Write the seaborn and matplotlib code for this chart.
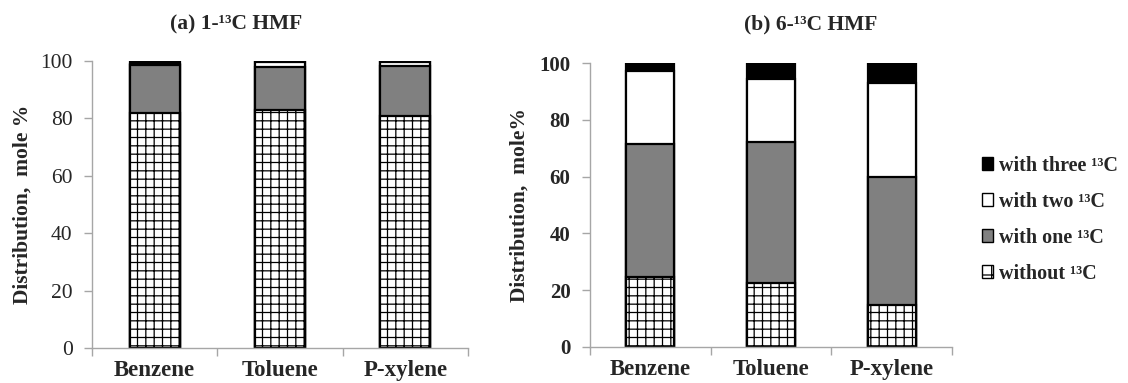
import numpy as np
import pandas as pd
import matplotlib
matplotlib.use("Agg")
import matplotlib.pyplot as plt
import seaborn as sns
from matplotlib.patches import Patch

sns.set_style("white")
plt.rcParams['font.family'] = ['Liberation Serif', 'DejaVu Serif']
plt.rcParams['hatch.linewidth'] = 0.9

# Data (mole %)
solvents = ["Benzene", "Toluene", "P-xylene"]

# (a) 1-13C HMF
a_without = [81.8, 83.0, 80.8]
a_one = [16.7, 14.8, 17.5]
a_two = [0.3, 1.7, 1.2]
a_three = [1.2, 0.5, 0.5]

# (b) 6-13C HMF
b_without = [24.8, 22.6, 14.8]
b_one = [46.6, 49.7, 45.2]
b_two = [25.8, 22.2, 32.9]
b_three = [2.8, 5.5, 7.1]

layer_names = ["without", "one", "two", "three"]
layer_colors = {"without": "white", "one": "#808080", "two": "white", "three": "black"}
layer_hatch = {"without": "++", "one": None, "two": None, "three": None}

fig = plt.figure(figsize=(11.28, 3.83), dpi=100)
ax_a = fig.add_axes([0.0816, 0.0914, 0.3333, 0.7493])
ax_b = fig.add_axes([0.523, 0.094, 0.321, 0.7415])


def draw_stack(ax, layers, bold_ticks):
    df = pd.DataFrame(dict(zip(layer_names, layers)), index=solvents)
    cum = df.cumsum(axis=1)
    # draw tallest cumulative first so lower layers sit on top
    for name in reversed(layer_names):
        sns.barplot(x=solvents, y=cum[name].values, color=layer_colors[name],
                    edgecolor="black", linewidth=1.6, hatch=layer_hatch[name],
                    width=0.4, ax=ax, saturation=1)
    ax.set_ylim(0, 100)
    ax.set_xlim(-0.5, 2.5)
    ax.set_yticks([0, 20, 40, 60, 80, 100])
    for side in ["top", "right"]:
        ax.spines[side].set_visible(False)
    for side in ["left", "bottom"]:
        ax.spines[side].set_color("#a6a6a6")
        ax.spines[side].set_linewidth(1.0)
    ax.tick_params(axis="y", direction="out", length=5.5, width=1.0, color="#a6a6a6",
                   labelsize=15.5 if not bold_ticks else 15, pad=8.5, left=True)
    ax.tick_params(axis="x", which="major", length=0, labelsize=16.5, pad=9)
    ax.set_xticks([-0.5, 0.5, 1.5, 2.5], minor=True)
    ax.tick_params(axis="x", which="minor", direction="out", length=6, width=1.0,
                   color="#a6a6a6", bottom=True)
    for lab in ax.get_xticklabels():
        lab.set_fontweight("bold")
    if bold_ticks:
        for lab in ax.get_yticklabels():
            lab.set_fontweight("bold")


draw_stack(ax_a, [a_without, a_one, a_two, a_three], bold_ticks=False)
draw_stack(ax_b, [b_without, b_one, b_two, b_three], bold_ticks=True)

ax_a.set_ylabel("Distribution,  mole %", fontsize=15.5, fontweight="bold")
ax_b.set_ylabel("Distribution,  mole%", fontsize=15.5, fontweight="bold")
for ax, xc in [(ax_a, -0.184), (ax_b, -0.193)]:
    ax.yaxis.label.set_va("center")
    ax.yaxis.set_label_coords(xc, 0.5)

fig.text(0.209, 0.937, "(a) 1-\u00b9\u00b3C HMF", ha="center", va="center",
         fontsize=15.5, fontweight="bold")
fig.text(0.719, 0.937, "(b) 6-\u00b9\u00b3C HMF", ha="center", va="center",
         fontsize=15.5, fontweight="bold")

handles = [
    Patch(facecolor="black", edgecolor="black", label="with three \u00b9\u00b3C"),
    Patch(facecolor="white", edgecolor="black", label="with two \u00b9\u00b3C"),
    Patch(facecolor="#808080", edgecolor="black", label="with one \u00b9\u00b3C"),
    Patch(facecolor="white", edgecolor="black", hatch="+", label="without \u00b9\u00b3C"),
]
fig.legend(handles=handles, loc="upper left", bbox_to_anchor=(0.8635, 0.615),
           frameon=False, handlelength=0.55, handleheight=0.6, handletextpad=0.3,
           labelspacing=0.8, prop={"size": 14.5, "weight": "bold"}, borderaxespad=0)

fig.savefig("out.png", dpi=100)
